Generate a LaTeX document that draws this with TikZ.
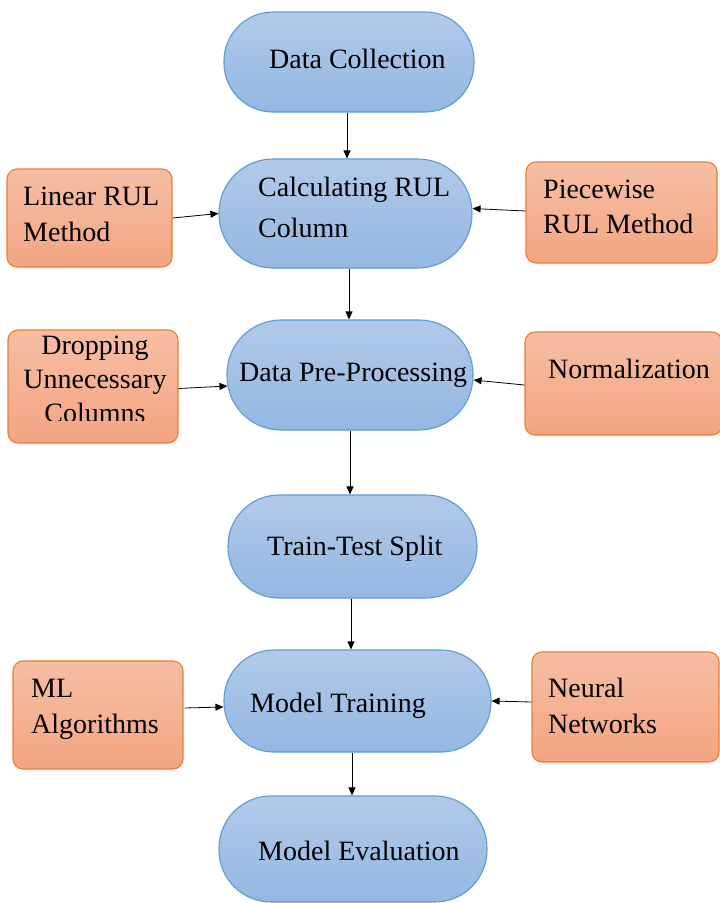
\documentclass[tikz,border=0pt]{standalone}
\usepackage{fontspec}
\setmainfont{Liberation Serif}
\usetikzlibrary{arrows.meta}
\definecolor{bluetop}{HTML}{B1CAE9}
\definecolor{bluebot}{HTML}{94B7E2}
\definecolor{blueline}{HTML}{5B9BD5}
\definecolor{orgtop}{HTML}{F6BEA4}
\definecolor{orgbot}{HTML}{F4A582}
\definecolor{orgline}{HTML}{ED7D31}
\tikzset{
  stadium/.style={draw=blueline, line width=1.1pt, top color=bluetop, bottom color=bluebot, inner sep=0pt},
  sidebox/.style={draw=orgline, line width=1.1pt, top color=orgtop, bottom color=orgbot, inner sep=0pt, rounded corners=10pt},
  lbl/.style={inner sep=0pt, anchor=base west, font=\fontsize{28}{35}\selectfont},
  clbl/.style={inner sep=0pt, anchor=base, font=\fontsize{28}{35}\selectfont},
  arr/.style={draw=black, line width=0.8pt, -{Triangle[length=8pt,width=7pt]}}
}
\begin{document}
\begin{tikzpicture}[x=1pt,y=-1pt]
\useasboundingbox (0,0) rectangle (720,903);
\clip (0,0) rectangle (720,903);
\fill[white] (0,0) rectangle (720,903);
% blue stadium nodes
\node[stadium, minimum width=250pt, minimum height=100pt, rounded corners=49pt] (dc) at (349,62) {};
\node[stadium, minimum width=253pt, minimum height=109pt, rounded corners=54pt] (calc) at (345.5,213.5) {};
\node[stadium, minimum width=246pt, minimum height=110pt, rounded corners=54pt] (pp) at (350,375) {};
\node[stadium, minimum width=249pt, minimum height=103pt, rounded corners=51pt] (tt) at (352.5,546.5) {};
\node[stadium, minimum width=267pt, minimum height=102pt, rounded corners=50pt] (mt) at (357.5,701) {};
\node[stadium, minimum width=268pt, minimum height=106pt, rounded corners=52pt] (me) at (353,849) {};
% orange side boxes
\node[sidebox, minimum width=165pt, minimum height=98pt] (lin) at (89.5,218) {};
\node[sidebox, minimum width=191pt, minimum height=101pt] (pw) at (621.5,212.5) {};
\node[sidebox, minimum width=170pt, minimum height=113pt] (drop) at (93,386.5) {};
\node[sidebox, minimum width=197pt, minimum height=103pt] (norm) at (623.5,383.5) {};
\node[sidebox, minimum width=170pt, minimum height=108pt] (ml) at (98,715) {};
\node[sidebox, minimum width=187pt, minimum height=110pt] (nn) at (625.5,707) {};
% texts
\node[lbl] (tdc) at (269,68) {Data Collection};
\node[lbl] (tcalc1) at (258,196) {Calculating RUL};
\node[lbl] (tcalc2) at (258,237) {Column};
\node[lbl] (tpp) at (239,381) {Data Pre-Processing};
\node[lbl] (ttt) at (267,555) {Train-Test Split};
\node[lbl] (tmt) at (250,712) {Model Training};
\node[lbl] (tme) at (258,860) {Model Evaluation};
\node[lbl] (tlin1) at (23,205) {Linear RUL};
\node[lbl] (tlin2) at (23,241) {Method};
\node[lbl] (tpw1) at (543,198) {Piecewise};
\node[lbl] (tpw2) at (543,233) {RUL Method};
\node[clbl] (tdrop1) at (95,354) {Dropping};
\node[clbl] (tdrop2) at (95,388) {Unnecessary};
\begin{scope}
\clip (0,0) rectangle (720,420.5);
\node[clbl] (tdrop3) at (95,422) {Columns};
\end{scope}
\node[lbl] (tnorm) at (548,378) {Normalization};
\node[lbl] (tml1) at (31,697) {ML};
\node[lbl] (tml2) at (31,733) {Algorithms};
\node[lbl] (tnn1) at (548,697) {Neural};
\node[lbl] (tnn2) at (548,733) {Networks};
% vertical connectors
\draw[arr] (dc.south -| 347,0) -- (calc.north -| 347,0);
\draw[arr] (calc.south -| 349,0) -- (pp.north -| 349,0);
\draw[arr] (pp.south -| 350,0) -- (tt.north -| 350,0);
\draw[arr] (tt.south -| 351,0) -- (mt.north -| 351,0);
\draw[arr] (mt.south -| 352,0) -- (me.north -| 352,0);
% horizontal connectors
\draw[arr] (lin.east) -- (calc.west);
\draw[arr] ([yshift=1.5pt]pw.west) -- ([yshift=5pt]calc.east);
\draw[arr] ([yshift=-2pt]drop.east) -- ([yshift=-11pt,xshift=1pt]pp.west);
\draw[arr] ([yshift=-1.5pt]norm.west) -- ([yshift=-5pt]pp.east);
\draw[arr] ([yshift=7pt,xshift=1pt]ml.east) -- ([yshift=-6pt]mt.west);
\draw[arr] ([yshift=5pt]nn.west) -- (mt.east);
\end{tikzpicture}
\end{document}
